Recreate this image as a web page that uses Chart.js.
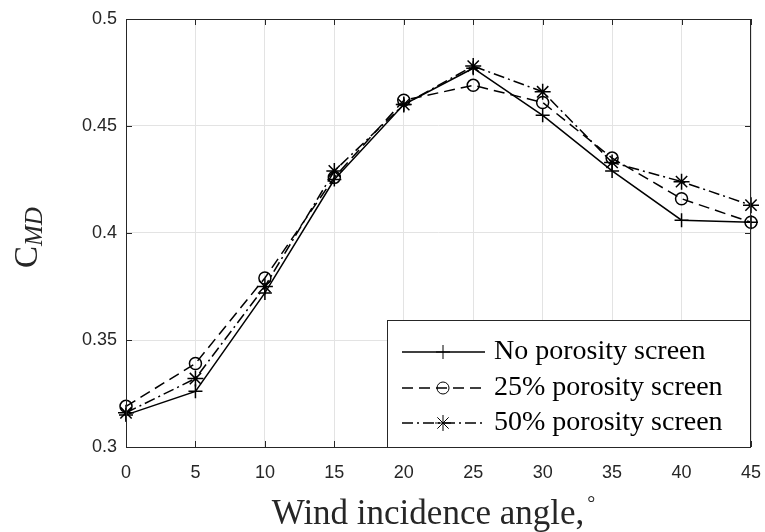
<!DOCTYPE html>
<html>
<head>
<meta charset="utf-8">
<script src="https://cdn.jsdelivr.net/npm/chart.js@4.4.0/dist/chart.umd.min.js"></script>
<style>
  body { margin: 0; background: #fff; }
  #wrap { width: 765px; height: 532px; }
</style>
</head>
<body>
<div id="wrap"><canvas id="myChart"></canvas></div>
<script>
// data
var angles = [0, 5, 10, 15, 20, 25, 30, 35, 40, 45];
var noScreen = [0.315, 0.326, 0.372, 0.425, 0.460, 0.477, 0.455, 0.429, 0.406, 0.405];
var screen25 = [0.319, 0.339, 0.379, 0.426, 0.462, 0.469, 0.461, 0.435, 0.416, 0.405];
var screen50 = [0.316, 0.332, 0.375, 0.429, 0.460, 0.478, 0.466, 0.433, 0.424, 0.413];
var seriesNames = ["No porosity screen", "25% porosity screen", "50% porosity screen"];
var xTicks = [0, 5, 10, 15, 20, 25, 30, 35, 40, 45];
var yTicks = [0.3, 0.35, 0.4, 0.45, 0.5];

var axisColor = "#262626";
var serif = "'Liberation Serif', 'Times New Roman', serif";
var sans = "'Liberation Sans', Arial, sans-serif";

var toPoints = vals => vals.map((v, i) => ({ x: angles[i], y: v }));

// inward ticks, box, legend and axis titles
var matlabBits = {
  id: "matlabBits",
  afterDatasetsDraw(chart) {
    var ctx = chart.ctx;
    var a = chart.chartArea;
    var xs = chart.scales.x, ys = chart.scales.y;
    ctx.save();
    ctx.strokeStyle = axisColor;
    ctx.lineWidth = 1;
    ctx.strokeRect(a.left + 0.5, a.top + 0.5, a.right - a.left - 1, a.bottom - a.top);
    ctx.beginPath();
    xTicks.forEach(t => {
      var px = Math.round(xs.getPixelForValue(t)) + 0.5;
      ctx.moveTo(px, a.bottom); ctx.lineTo(px, a.bottom - 6);
      ctx.moveTo(px, a.top); ctx.lineTo(px, a.top + 6);
    });
    yTicks.forEach(t => {
      var py = Math.round(ys.getPixelForValue(t)) + 0.5;
      ctx.moveTo(a.left, py); ctx.lineTo(a.left + 6, py);
      ctx.moveTo(a.right, py); ctx.lineTo(a.right - 6, py);
    });
    ctx.stroke();

    // legend box
    var lx = 387, ly = 320, lw = a.right - 387, lh = a.bottom - 320;
    ctx.fillStyle = "#fff";
    ctx.fillRect(lx, ly, lw, lh);
    ctx.strokeRect(lx + 0.5, ly + 0.5, lw - 1, lh);
    var rows = [352, 388, 423];
    chart.data.datasets.forEach((ds, i) => {
      var y = rows[i];
      ctx.save();
      ctx.strokeStyle = "#000";
      ctx.lineWidth = ds.borderWidth;
      ctx.setLineDash(ds.borderDash || []);
      ctx.beginPath();
      ctx.moveTo(402, y); ctx.lineTo(485, y);
      ctx.stroke();
      ctx.restore();
      ctx.fillStyle = "rgba(0,0,0,0)";
      ctx.strokeStyle = "#000";
      Chart.helpers.drawPoint(ctx, {
        pointStyle: ds.pointStyle, radius: ds.pointRadius, rotation: 0,
        borderWidth: ds.borderWidth
      }, 443, y);
      ctx.fillStyle = "#000";
      ctx.font = "28px " + serif;
      ctx.textBaseline = "middle";
      ctx.textAlign = "left";
      ctx.fillText(seriesNames[i], 494, y);
    });

    // x title
    ctx.fillStyle = axisColor;
    ctx.font = "35px " + serif;
    ctx.textAlign = "center";
    ctx.textBaseline = "alphabetic";
    ctx.fillText("Wind incidence angle,", 428, 524);
    var w = ctx.measureText("Wind incidence angle,").width;
    ctx.font = "20px " + serif;
    ctx.textAlign = "left";
    ctx.fillText("°", 428 + w / 2 + 3, 510);

    // y title, C with italic MD subscript
    ctx.translate(37, 268);
    ctx.rotate(-Math.PI / 2);
    ctx.font = "33px " + serif;
    ctx.fillText("C", 0, 0);
    var cw = ctx.measureText("C").width;
    ctx.font = "italic 25px " + serif;
    ctx.fillText("MD", cw, 5);
    ctx.restore();
  }
};

var ctx = document.getElementById("myChart");
var myChart = new Chart(ctx, {
  type: "line",
  data: {
    datasets: [
      {
        label: seriesNames[0],
        data: toPoints(noScreen),
        borderColor: "#000",
        borderWidth: 1.5,
        pointStyle: "cross",
        pointRadius: 7,
        pointBorderColor: "#000",
        pointBackgroundColor: "transparent",
        clip: false
      },
      {
        label: seriesNames[1],
        data: toPoints(screen25),
        borderColor: "#000",
        borderWidth: 1.5,
        borderDash: [11, 6],
        pointStyle: "circle",
        pointRadius: 6,
        pointBorderColor: "#000",
        pointBackgroundColor: "transparent",
        clip: false
      },
      {
        label: seriesNames[2],
        data: toPoints(screen50),
        borderColor: "#000",
        borderWidth: 1.5,
        borderDash: [11, 4, 2, 4],
        pointStyle: "star",
        pointRadius: 8,
        pointBorderColor: "#000",
        pointBackgroundColor: "transparent",
        clip: false
      }
    ]
  },
  options: {
    responsive: true,
    maintainAspectRatio: false,
    animation: false,
    layout: { padding: { top: 19, right: 14, left: 0, bottom: 0 } },
    plugins: {
      legend: { display: false },
      tooltip: { enabled: false }
    },
    scales: {
      x: {
        type: "linear",
        min: 0,
        max: 45,
        afterFit: s => { s.height = 85; s.paddingLeft = 0; s.paddingRight = 0; },
        afterBuildTicks: s => { s.ticks = xTicks.map(v => ({ value: v })); },
        grid: { color: "#e3e3e3", drawTicks: false },
        border: { display: false },
        ticks: { color: axisColor, font: { family: sans, size: 18 }, padding: 15, maxRotation: 0 }
      },
      y: {
        min: 0.3,
        max: 0.5,
        afterFit: s => { s.width = 126; s.paddingTop = 0; s.paddingBottom = 0; },
        afterBuildTicks: s => { s.ticks = yTicks.map(v => ({ value: v })); },
        grid: { color: "#e3e3e3", drawTicks: false },
        border: { display: false },
        ticks: {
          color: axisColor,
          font: { family: sans, size: 18 },
          padding: 9,
          callback: v => String(Math.round(v * 100) / 100)
        }
      }
    }
  },
  plugins: [matlabBits]
});
</script>
</body>
</html>
